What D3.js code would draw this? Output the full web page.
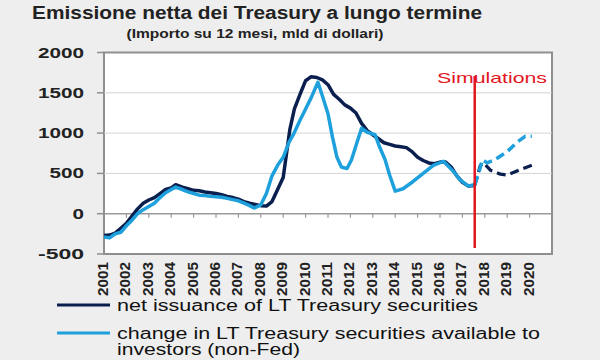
<!DOCTYPE html>
<meta charset="utf-8">
<body style="margin:0;background-color:#eeeeee">
<script src="https://d3js.org/d3.v7.min.js"></script>
<div id="chart"></div>
<script>

// data (12-month sums, USD bn)
var yTicks = [-500, 0, 500, 1000, 1500, 2000];
var years = d3.range(2001, 2021);

var netDate = [2001.0, 2001.25, 2001.5, 2001.75, 2002.0, 2002.25, 2002.5, 2002.75, 2003.0, 2003.25,
  2003.5, 2003.75, 2004.0, 2004.2, 2004.5, 2004.75, 2005.0, 2005.25, 2005.5, 2005.75,
  2006.0, 2006.25, 2006.5, 2006.75, 2007.0, 2007.25, 2007.5, 2007.75, 2008.0, 2008.25,
  2008.5, 2008.75, 2009.0, 2009.15, 2009.3, 2009.5, 2009.75, 2010.0, 2010.25, 2010.5,
  2010.75, 2011.0, 2011.25, 2011.5, 2011.75, 2012.0, 2012.25, 2012.5, 2012.75, 2013.0,
  2013.25, 2013.5, 2013.75, 2014.0, 2014.25, 2014.5, 2014.75, 2015.0, 2015.25, 2015.5,
  2015.75, 2016.0, 2016.25, 2016.5, 2016.75, 2017.0, 2017.25, 2017.55];
var netValue = [-270, -265, -240, -180, -120, -30, 60, 130, 170, 200,
  250, 300, 320, 360, 330, 310, 290, 285, 270, 260,
  250, 235, 215, 200, 180, 150, 130, 115, 100, 95,
  150, 300, 450, 750, 1050, 1300, 1480, 1650, 1700, 1690,
  1660, 1600, 1480, 1420, 1350, 1310, 1250, 1120, 1030, 980,
  930, 880, 860, 840, 830, 820, 770, 700, 660, 630,
  620, 640, 640, 580, 470, 390, 345, 350];

var nonFedDate = [2001.0, 2001.25, 2001.5, 2001.75, 2002.0, 2002.25, 2002.5, 2002.75, 2003.0, 2003.25,
  2003.5, 2003.75, 2004.0, 2004.2, 2004.5, 2004.75, 2005.0, 2005.25, 2005.5, 2005.75,
  2006.0, 2006.25, 2006.5, 2006.75, 2007.0, 2007.25, 2007.5, 2007.7, 2008.0, 2008.25,
  2008.5, 2008.75, 2009.0, 2009.25, 2009.45, 2009.75, 2010.0, 2010.25, 2010.55, 2010.75,
  2011.0, 2011.2, 2011.4, 2011.6, 2011.85, 2012.05, 2012.3, 2012.5, 2012.75, 2013.1,
  2013.3, 2013.55, 2013.75, 2014.0, 2014.35, 2014.8, 2015.25, 2015.7, 2016.15, 2016.55,
  2016.9, 2017.25, 2017.55];
var nonFedValue = [-290, -300, -250, -230, -150, -80, 0, 50, 90, 130,
  200, 260, 300, 330, 300, 270, 250, 230, 225, 215,
  210, 205, 190, 175, 160, 130, 100, 70, 110, 250,
  470, 600, 700, 880, 980, 1160, 1300, 1440, 1630, 1460,
  1240, 950, 700, 580, 560, 670, 890, 1060, 1010, 980,
  830, 670, 480, 280, 310, 400, 500, 600, 650, 540,
  420, 345, 360];

// simulated paths (dashed)
var netSimDate = [2017.55, 2017.8, 2017.95, 2018.25, 2018.7, 2019.0, 2019.6, 2020.1];
var netSimValue = [350, 600, 630, 540, 490, 480, 550, 600];
var nonFedSimDate = [2017.55, 2017.7, 2017.9, 2018.1, 2018.45, 2019.0, 2019.45, 2019.8, 2020.1];
var nonFedSimValue = [360, 480, 670, 630, 670, 770, 890, 960, 960];

var simStart = 2017.55;

var navy = "#0b1f4f", sky = "#1ea0dc", red = "#e3161d";

var svg = d3.select("#chart").append("svg")
  .attr("width", 600).attr("height", 360)
  .style("font-family", "'Liberation Sans', Arial, sans-serif");

// titles
svg.append("text").attr("x", 257).attr("y", 19)
  .attr("text-anchor", "middle").attr("font-weight", "bold").attr("font-size", 18)
  .attr("fill", "#222").attr("textLength", 450).attr("lengthAdjust", "spacingAndGlyphs")
  .text("Emissione netta dei Treasury a lungo termine");
svg.append("text").attr("x", 255).attr("y", 38)
  .attr("text-anchor", "middle").attr("font-weight", "bold").attr("font-size", 13)
  .attr("fill", "#222").attr("textLength", 257).attr("lengthAdjust", "spacingAndGlyphs")
  .text("(Importo su 12 mesi, mld di dollari)");

var x = d3.scaleLinear().domain([2001, 2021]).range([104, 552]);
var y = d3.scaleLinear().domain([-500, 2000]).range([254, 52.5]);

// plot box
svg.append("rect")
  .attr("x", x(2001)).attr("y", y(2000))
  .attr("width", x(2021) - x(2001)).attr("height", y(-500) - y(2000))
  .attr("fill", "#fff").attr("stroke", "#8f8f8f").attr("stroke-width", 2);

// grid lines
svg.append("g").selectAll("line")
  .data([500, 1000, 1500])
  .enter().append("line")
    .attr("x1", x(2001)).attr("x2", x(2021))
    .attr("y1", d => y(d)).attr("y2", d => y(d))
    .attr("stroke", "#d4d4d4").attr("stroke-width", 1);

// y axis ticks + labels
svg.append("g").selectAll("line")
  .data(yTicks)
  .enter().append("line")
    .attr("x1", x(2001) - 7).attr("x2", x(2001))
    .attr("y1", d => y(d)).attr("y2", d => y(d))
    .attr("stroke", "#8f8f8f").attr("stroke-width", 1.5);
svg.append("g").selectAll("text")
  .data(yTicks)
  .enter().append("text")
    .attr("x", 84).attr("y", d => y(d)).attr("dy", "0.36em")
    .attr("text-anchor", "end").attr("font-weight", "bold").attr("font-size", 14)
    .attr("fill", "#222")
    .attr("textLength", d => String(d).length * 11.5).attr("lengthAdjust", "spacingAndGlyphs")
    .text(d => d);

// zero line with year ticks
svg.append("line")
  .attr("x1", x(2001)).attr("x2", x(2021))
  .attr("y1", y(0)).attr("y2", y(0))
  .attr("stroke", "#999").attr("stroke-width", 1.5);
svg.append("g").selectAll("line")
  .data(years.slice(1))
  .enter().append("line")
    .attr("x1", d => x(d)).attr("x2", d => x(d))
    .attr("y1", y(0)).attr("y2", y(0) + 4)
    .attr("stroke", "#999").attr("stroke-width", 1.2);

// x labels (rotated)
svg.append("g").selectAll("text")
  .data(years)
  .enter().append("text")
    .attr("transform", d => "translate(" + (x(d) - 1) + ",262) rotate(-90)")
    .attr("dy", "0.36em").attr("text-anchor", "end")
    .attr("font-weight", "bold").attr("font-size", 14).attr("fill", "#222")
    .attr("textLength", 34).attr("lengthAdjust", "spacingAndGlyphs")
    .text(d => d);

var line = d3.line().x(d => x(d[0])).y(d => y(d[1]));

function pairs(a, b) { return a.map((d, i) => [d, b[i]]); }

var g = svg.append("g").attr("fill", "none")
  .attr("stroke-linejoin", "round").attr("stroke-linecap", "butt");

g.append("path").attr("d", line(pairs(netDate, netValue)))
  .attr("stroke", navy).attr("stroke-width", 3.5);
g.append("path").attr("d", line(pairs(nonFedDate, nonFedValue)))
  .attr("stroke", sky).attr("stroke-width", 3.5);
g.append("path").attr("d", line(pairs(netSimDate, netSimValue)))
  .attr("stroke", navy).attr("stroke-width", 3.2).attr("stroke-dasharray", "9,5");
g.append("path").attr("d", line(pairs(nonFedSimDate, nonFedSimValue)))
  .attr("stroke", sky).attr("stroke-width", 3.5).attr("stroke-dasharray", "9,5");

// simulations marker
svg.append("text").attr("x", 437).attr("y", 83)
  .attr("font-size", 15).attr("fill", red)
  .attr("textLength", 110).attr("lengthAdjust", "spacingAndGlyphs")
  .text("Simulations");
svg.append("line")
  .attr("x1", x(simStart)).attr("x2", x(simStart))
  .attr("y1", 76).attr("y2", 248)
  .attr("stroke", red).attr("stroke-width", 2.5);

// legend
var legend = [
  {color: navy, lines: ["net issuance of LT Treasury securities"], len: [361], ly: 305},
  {color: sky, lines: ["change in LT Treasury securities available to", "investors (non-Fed)"], len: [423, 183], ly: 333}
];
legend.forEach(function (d) {
  svg.append("line").attr("x1", 57).attr("x2", 110)
    .attr("y1", d.ly).attr("y2", d.ly)
    .attr("stroke", d.color).attr("stroke-width", 3);
  d.lines.forEach(function (t, i) {
    svg.append("text").attr("x", 117).attr("y", d.ly + 6 + i * 16)
      .attr("font-size", 16).attr("fill", "#111")
      .attr("textLength", d.len[i]).attr("lengthAdjust", "spacingAndGlyphs")
      .text(t);
  });
});

</script>
</body>
